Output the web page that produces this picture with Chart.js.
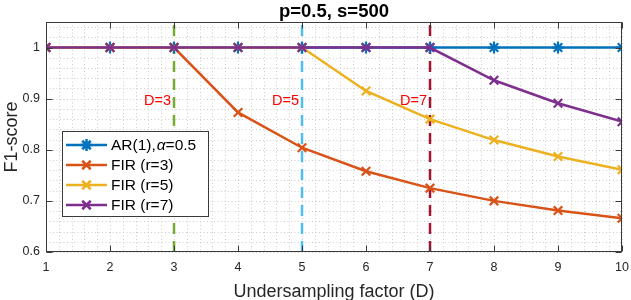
<!DOCTYPE html>
<html>
<head>
<meta charset="utf-8">
<script src="https://cdn.jsdelivr.net/npm/chart.js@4/dist/chart.umd.min.js"></script>
<style>
html,body{margin:0;padding:0;background:#fff;}
#wrap{width:631px;height:300px;position:relative;}
</style>
</head>
<body>
<div id="wrap"><canvas id="c" width="631" height="300"></canvas></div>
<script>
// ---- data ----
const D = [1, 2, 3, 4, 5, 6, 7, 8, 9, 10];
const ar1 = [1, 1, 1, 1, 1, 1, 1, 1, 1, 1];
const fir3 = [1, 1, 1, 0.873, 0.804, 0.758, 0.725, 0.700, 0.681, 0.666];
const fir5 = [1, 1, 1, 1, 1, 0.915, 0.860, 0.819, 0.787, 0.761];
const fir7 = [1, 1, 1, 1, 1, 1, 1, 0.936, 0.891, 0.855];
const seriesNames = ['AR(1), \u03b1=0.5', 'FIR (r=3)', 'FIR (r=5)', 'FIR (r=7)'];
const cutoffs = [3, 5, 7];
const cutoffLabels = ['D=3', 'D=5', 'D=7'];
const cutoffLabelY = 0.896;
const xTicks = [1, 2, 3, 4, 5, 6, 7, 8, 9, 10];
const yTicks = [0.6, 0.7, 0.8, 0.9, 1];
const yMin = 0.6, yMax = 1.05;
const titleText = 'p=0.5, s=500';
const xTitle = 'Undersampling factor (D)';
const yTitle = 'F1-score';

// ---- styles ----
const colors = ['#0072BD', '#D95319', '#EDB120', '#7E2F8E'];
const cutColors = ['#77AC30', '#4DBEEE', '#A2142F'];
const FONT = '"Liberation Sans", Arial, Helvetica, sans-serif';

const pts = arr => D.map((d, i) => ({x: d, y: arr[i]}));
const seriesData = [ar1, fir3, fir5, fir7];
const datasets = [];
cutoffs.forEach((c, i) => {
  datasets.push({
    label: 'cut' + c,
    data: [{x: c, y: yMin}, {x: c, y: yMax}],
    borderColor: cutColors[i],
    borderWidth: 2.5,
    borderDash: [11, 7],
    pointRadius: 0,
    order: 10,
    isCut: true
  });
});
seriesData.forEach((arr, i) => {
  datasets.push({
    label: seriesNames[i],
    data: pts(arr),
    borderColor: colors[i],
    backgroundColor: colors[i],
    borderWidth: 2.5,
    pointStyle: i === 0 ? 'star' : 'crossRot',
    pointRadius: 6,
    pointBorderWidth: 2.2,
    pointBorderColor: colors[i],
    order: 4 - i
  });
});

function drawLegendText(ctx, text, x, y, size) {
  let cx = x;
  const parts = text.split(/(\u03b1)/);
  parts.forEach(p => {
    if (!p) return;
    if (p === '\u03b1') {
      ctx.font = 'italic ' + size + 'px ' + FONT;
      ctx.fillText(p, cx + 1, y);
      cx += ctx.measureText(p).width + 1;
    } else {
      ctx.font = size + 'px ' + FONT;
      const s = p.replace(', ', ',');
      ctx.fillText(s, cx, y);
      cx += ctx.measureText(s).width;
    }
  });
}

const customPlugin = {
  id: 'custom',
  beforeDatasetsDraw(chart) {
    const {ctx, chartArea: a, scales: {x, y}} = chart;
    ctx.save();
    ctx.strokeStyle = '#cccccc';
    ctx.lineWidth = 1;
    ctx.setLineDash([1, 2.5]);
    for (let k = 0; k <= 45; k++) {
      const v = 1 + k * 0.2;
      const px = Math.round(x.getPixelForValue(v)) + 0.5;
      ctx.beginPath(); ctx.moveTo(px, a.top); ctx.lineTo(px, a.bottom); ctx.stroke();
    }
    for (let k = 0; k <= 22; k++) {
      const v = 0.6 + k * 0.02;
      const py = Math.round(y.getPixelForValue(v)) + 0.5;
      ctx.beginPath(); ctx.moveTo(a.left, py); ctx.lineTo(a.right, py); ctx.stroke();
    }
    ctx.restore();
  },
  afterDatasetsDraw(chart) {
    const {ctx, chartArea: a, scales: {x, y}} = chart;
    ctx.save();
    ctx.fillStyle = '#FF0000';
    ctx.font = '14.5px ' + FONT;
    ctx.textAlign = 'right';
    ctx.textBaseline = 'middle';
    cutoffs.forEach((c, i) => {
      ctx.fillText(cutoffLabels[i], x.getPixelForValue(c) - 3, y.getPixelForValue(cutoffLabelY));
    });
    ctx.strokeStyle = '#3a3a3a';
    ctx.lineWidth = 1;
    ctx.setLineDash([]);
    const L = Math.round(a.left) + 0.5, R = Math.round(a.right) - 0.5;
    const T = Math.round(a.top) + 0.5, B = Math.round(a.bottom) - 0.5;
    ctx.strokeRect(L, T, R - L, B - T);
    const tl = 6;
    xTicks.forEach(v => {
      const px = Math.round(x.getPixelForValue(v)) + 0.5;
      ctx.beginPath();
      ctx.moveTo(px, B); ctx.lineTo(px, B - tl);
      ctx.moveTo(px, T); ctx.lineTo(px, T + tl);
      ctx.stroke();
    });
    yTicks.forEach(v => {
      const py = Math.round(y.getPixelForValue(v)) + 0.5;
      ctx.beginPath();
      ctx.moveTo(L, py); ctx.lineTo(L + tl, py);
      ctx.moveTo(R, py); ctx.lineTo(R - tl, py);
      ctx.stroke();
    });
    const lx = 62.5, ly = 131.5, lw = 146, lh = 85;
    ctx.fillStyle = '#fff';
    ctx.fillRect(lx, ly, lw, lh);
    ctx.strokeStyle = '#3a3a3a';
    ctx.strokeRect(lx, ly, lw, lh);
    const metas = chart.data.datasets.map((d, i) => chart.getDatasetMeta(i)).filter(m => !m._dataset.isCut);
    metas.forEach((m, i) => {
      const ds = m._dataset;
      const cy = ly + 13.5 + i * 20;
      ctx.strokeStyle = ds.borderColor;
      ctx.lineWidth = 2.5;
      ctx.beginPath(); ctx.moveTo(66, cy); ctx.lineTo(107, cy); ctx.stroke();
      Chart.helpers.drawPoint(ctx, {
        pointStyle: ds.pointStyle, radius: 6, borderWidth: 2.2, rotation: 0
      }, 86.5, cy);
      ctx.fillStyle = '#000';
      ctx.textAlign = 'left';
      ctx.textBaseline = 'middle';
      drawLegendText(ctx, ds.label, 111, cy + 1, 15.5);
    });
    ctx.restore();
  },
  afterDraw(chart) {
    const {ctx, chartArea: a} = chart;
    ctx.save();
    ctx.fillStyle = '#000';
    ctx.textAlign = 'center';
    ctx.textBaseline = 'alphabetic';
    const cx = (a.left + a.right) / 2;
    ctx.font = 'bold 18.5px ' + FONT;
    ctx.fillText(titleText, cx, 16.5);
    ctx.fillStyle = '#262626';
    ctx.font = '18px ' + FONT;
    ctx.fillText(xTitle, cx, 296.5);
    ctx.translate(16.5, (a.top + a.bottom) / 2);
    ctx.rotate(-Math.PI / 2);
    ctx.fillText(yTitle, 0, 0);
    ctx.restore();
  }
};

new Chart(document.getElementById('c'), {
  type: 'line',
  data: {datasets},
  options: {
    responsive: false,
    animation: false,
    layout: {padding: {top: 22, right: 9, left: 0, bottom: 0}},
    plugins: {legend: {display: false}, tooltip: {enabled: false}, title: {display: false}},
    scales: {
      x: {
        type: 'linear', min: 1, max: 10,
        afterFit: s => { s.height = 48; s.paddingLeft = 0; s.paddingRight = 0; },
        afterBuildTicks: s => { s.ticks = xTicks.map(v => ({value: v})); },
        grid: {display: false, drawTicks: false},
        border: {display: false},
        ticks: {color: '#262626', font: {family: FONT, size: 12.5}, padding: 8, maxRotation: 0,
                callback: v => String(v)}
      },
      y: {
        type: 'linear', min: yMin, max: yMax,
        afterFit: s => { s.width = 46; s.paddingTop = 0; s.paddingBottom = 0; },
        afterBuildTicks: s => { s.ticks = yTicks.map(v => ({value: v})); },
        grid: {display: false, drawTicks: false},
        border: {display: false},
        ticks: {color: '#262626', font: {family: FONT, size: 12.5}, padding: 6,
                callback: v => String(v)}
      }
    }
  },
  plugins: [customPlugin]
});
</script>
</body>
</html>
